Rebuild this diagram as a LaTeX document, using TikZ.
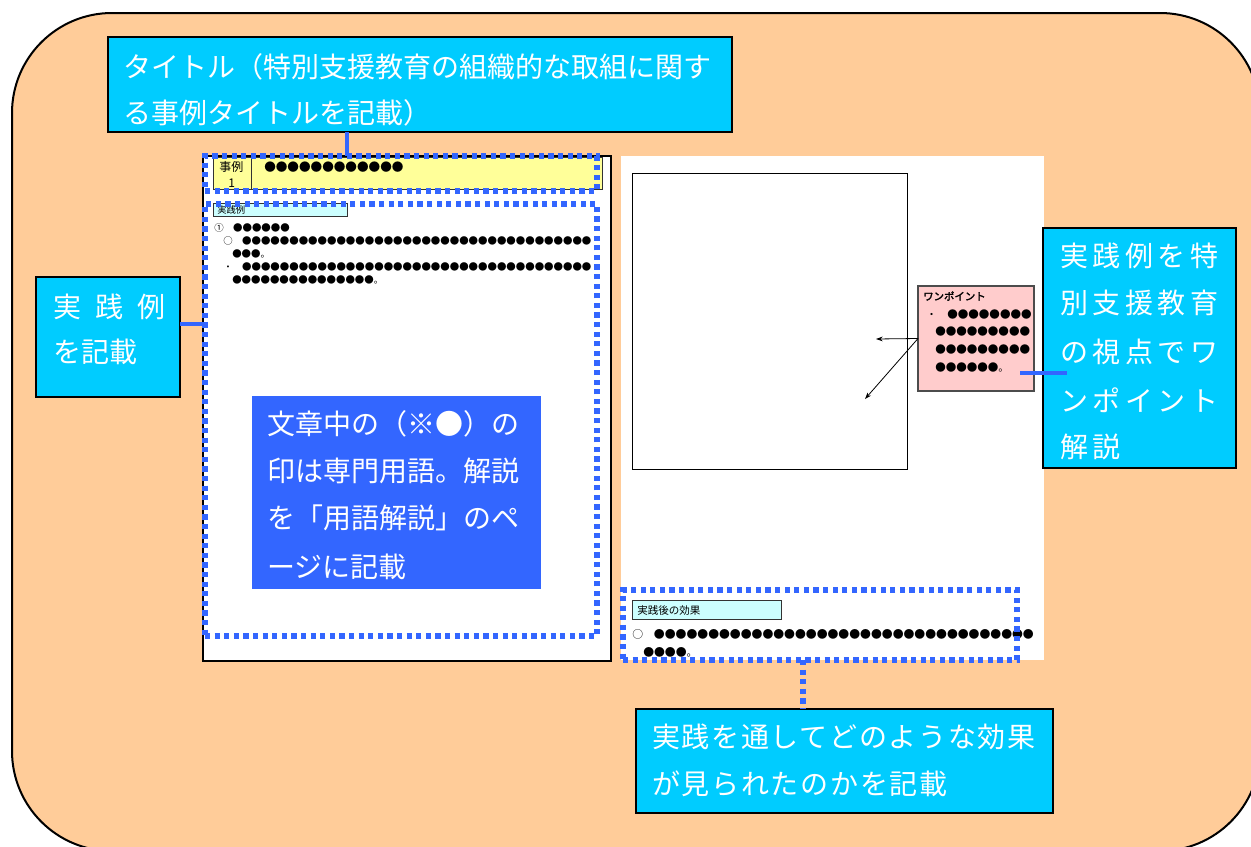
\documentclass[tikz,border=0pt]{standalone}
\usepackage{fontspec}
\setmainfont{Noto Sans CJK JP}[AutoFakeBold=2.5]
\usetikzlibrary{fit,arrows.meta}
\ExplSyntaxOn
\NewExpandableDocumentCommand\repchar{mm}{\prg_replicate:nn{#1}{#2}}
\ExplSyntaxOff
\newcommand\fs[1]{\fontsize{#1}{#1}\selectfont}
\definecolor{peach}{HTML}{FFCC99}
\definecolor{callcyan}{HTML}{00CCFF}
\definecolor{linkblue}{HTML}{3366FF}
\definecolor{hdryellow}{HTML}{FFFF99}
\definecolor{lcyan}{HTML}{CCFFFF}
\definecolor{pinkbox}{HTML}{FFCCCC}
\begin{document}
\begin{tikzpicture}[x=0.75pt,y=-0.75pt,
  box/.style={inner sep=0pt, outer sep=0pt},
  callout/.style={box, draw=black, line width=1.5pt, fill=callcyan},
  dotrect/.style={box, draw=linkblue, line width=3.9pt, dash pattern=on 3.9pt off 3.3pt},
  conn/.style={draw=linkblue, line width=3.6pt},
  dotconn/.style={conn, line width=3.9pt, dash pattern=on 3.9pt off 3.3pt},
  wtxt/.style={anchor=west, inner sep=0pt, text=white, font=\fs{21}},
  ttxt/.style={anchor=west, inner sep=0pt, text=black},
  labbox/.style={box, draw=black!80, line width=0.75pt, fill=lcyan},
  arr/.style={-{Stealth[length=5pt,width=3.5pt]}, line width=0.6pt}
]
\useasboundingbox (0,0) rectangle (1251,846);
\clip (0,0) rectangle (1251,846);
\fill[white] (0,0) rectangle (1251,846);
% background frame
\draw[fill=peach, line width=1.5pt, rounded corners=75pt] (12,13) rectangle (1260,851);

% ---------- left page ----------
\node[box, draw=black, line width=1.5pt, fill=white, fit={(203,156) (611,661)}] (lpage) {};
\node[box, draw=black!80, line width=0.75pt, fill=hdryellow, fit={(213,157) (602,189)}] (hdr) {};
\draw[line width=0.75pt, black!80] (251,157) -- (251,189);
\node[ttxt, font=\fs{9}] (hdrA) at (219,167) {事例};
\node[ttxt, font=\fs{9}] (hdrB) at (228,183) {1};
\node[ttxt, font=\fs{8.7}] (hdrC) at (264,167) {\repchar{12}{●}};
\node[labbox, fit={(213,203) (347,216)}] (lab1) {};
\node[ttxt, font=\fs{7}] (lab1t) at (217,210) {実践例};
\node[ttxt, font=\fs{7.08}] (r1) at (214,228) {①　\repchar{6}{●}};
\node[ttxt, font=\fs{7.08}] (r2) at (223,241) {○　\repchar{37}{●}};
\node[ttxt, font=\fs{7.08}] (r3) at (232,254) {●●●。};
\node[ttxt, font=\fs{7.08}] (r4) at (223,267) {・　\repchar{37}{●}};
\node[ttxt, font=\fs{7.08}] (r5) at (232,280) {\repchar{15}{●}。};

% ---------- right page ----------
\node[box, fill=white, fit={(621,156) (1044,660)}] (rpage) {};
\node[box, draw=black, line width=0.75pt, fit={(632,173) (907,469)}] (photo) {};
\node[box, draw=black!70, line width=0.9pt, fill=pinkbox, fit={(918,286) (1034,391)}] (onept) {};
\node[ttxt, font=\fs{7.8}\bfseries] (oneptt) at (923,296) {ワンポイント};
\node[ttxt, font=\fs{7.9}] (p1) at (926,314) {・　\repchar{8}{●}};
\node[ttxt, font=\fs{7.9}] (p2) at (935,331) {\repchar{9}{●}};
\node[ttxt, font=\fs{7.9}] (p3) at (935,349) {\repchar{9}{●}};
\node[ttxt, font=\fs{7.9}] (p4) at (935,367) {\repchar{6}{●}。};
\coordinate (ah1) at (876,339);
\coordinate (ah2) at (865,399);
\draw[arr] (onept.west) -- (ah1);
\draw[arr] (onept.west) -- (ah2);
\node[labbox, fit={(632,600) (781,619)}] (lab2) {};
\node[ttxt, font=\fs{7.9}] (lab2t) at (637,610) {実践後の効果};
\node[ttxt, font=\fs{8.14}] (e1) at (632,634) {○　\repchar{35}{●}};
\node[ttxt, font=\fs{8.14}] (e2) at (643,652) {●●●●。};

% ---------- dotted frames ----------
\node[dotrect, fit={(205,156) (597,191)}] (hdrdot) {};
\node[dotrect, fit={(205,204) (597,636)}] (bodydot) {};
\node[dotrect, fit={(623,590) (1017,660)}] (effdot) {};

% ---------- blue note ----------
\node[box, fill=linkblue, fit={(252,396) (541,589)}] (note) {};
\node[wtxt] (n1) at (267,423.6) {文章中の（※●）の};
\node[wtxt] (n2) at (267,470.6) {印は専門用語。解説};
\node[wtxt] (n3) at (267,518) {を「用語解説」のペ};
\node[wtxt] (n4) at (267,566.6) {ージに記載};

% ---------- callouts ----------
\node[callout, fit={(108,37) (732,132)}] (title) {};
\node[wtxt] (t1) at (123,67) {タイトル（特別支援教育の組織的な取組に関す};
\node[wtxt] (t2) at (123,113) {る事例タイトルを記載）};

\node[callout, fit={(36,277) (180,397)}] (leftc) {};
\node[wtxt] (l1) at (53,306.7) {実\hspace{10.5pt}践\hspace{10.5pt}例};
\node[wtxt] (l2) at (53,351.7) {を記載};

\node[callout, fit={(1043,228) (1236,468)}] (rightc) {};
\node[wtxt, font=\fs{21}\addfontfeatures{LetterSpace=16}] (q1) at (1060,256) {実践例を特};
\node[wtxt, font=\fs{21}\addfontfeatures{LetterSpace=16}] (q2) at (1060,303) {別支援教育};
\node[wtxt, font=\fs{21}\addfontfeatures{LetterSpace=16}] (q3) at (1060,352) {の視点でワ};
\node[wtxt, font=\fs{21}\addfontfeatures{LetterSpace=16}] (q4) at (1060,400) {ンポイント};
\node[wtxt, font=\fs{21}\addfontfeatures{LetterSpace=16}] (q5) at (1060,446.7) {解説};

\node[callout, fit={(636,709) (1053,813)}] (bottomc) {};
\node[wtxt, font=\fs{21}\addfontfeatures{LetterSpace=6}] (b1) at (652,736.6) {実践を通してどのような効果};
\node[wtxt, font=\fs{21}\addfontfeatures{LetterSpace=6}] (b2) at (652,783.6) {が見られたのかを記載};

% ---------- connectors ----------
\coordinate (tcx) at (347,0);
\draw[conn] (title.south -| tcx) -- (hdrdot.north -| tcx);
\coordinate (lcy) at (0,324);
\draw[conn] (leftc.east |- lcy) -- (bodydot.west |- lcy);
\coordinate (rc0) at (1020,373);
\coordinate (rc1) at (1067,373);
\draw[conn] (rc0) -- (rc1);
\coordinate (bcx) at (803,0);
\draw[dotconn] (effdot.south -| bcx) -- (bottomc.north -| bcx);
\end{tikzpicture}
\end{document}
